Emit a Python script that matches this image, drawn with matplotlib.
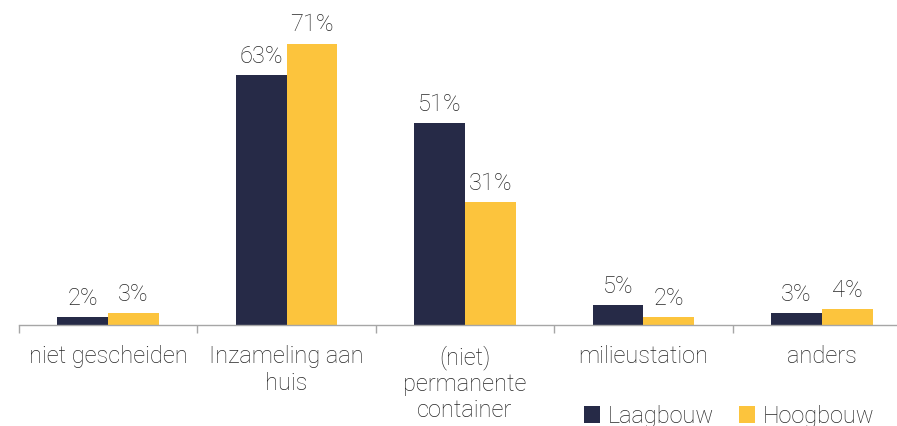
import numpy as np
import matplotlib.pyplot as plt

categories = ['niet gescheiden', 'Inzameling aan\nhuis', '(niet)\npermanente\ncontainer',
              'milieustation', 'anders']
laagbouw = [2, 63, 51, 5, 3]
hoogbouw = [3, 71, 31, 2, 4]
series_names = ['Laagbouw', 'Hoogbouw']

plt.rcParams.update({
    'font.family': ['Roboto', 'DejaVu Sans'],
    'font.weight': 'light',
    'font.size': 17,
})

dark = '#262a47'
yellow = '#fcc43d'
text_col = '#262626'

fig = plt.figure(figsize=(8.97, 4.27), dpi=100)
ax = fig.add_axes([19 / 897, 1 - 326 / 427, 892 / 897, 326 / 427])

x = np.arange(len(categories))
w = 0.285
b1 = ax.bar(x - w / 2, laagbouw, w, color=dark, label=series_names[0])
b2 = ax.bar(x + w / 2, hoogbouw, w, color=yellow, label=series_names[1])

for bars in (b1, b2):
    for rect in bars:
        h = rect.get_height()
        ax.annotate(f'{h:.0f}%', (rect.get_x() + rect.get_width() / 2, h),
                    xytext=(0, 6), textcoords='offset points',
                    ha='center', va='bottom', fontsize=17, color=text_col)

ax.set_xlim(-0.5, len(categories) - 0.5)
ax.set_ylim(0, 82.3)

ax.set_xticks(x)
ax.set_xticklabels(categories, fontsize=17, color=text_col, linespacing=1.17)
ax.tick_params(axis='x', length=0, pad=14)
ax.set_xticks(np.arange(len(categories) + 1) - 0.5, minor=True)
ax.tick_params(axis='x', which='minor', length=6, color='#a6a6a6', width=1)
ax.set_yticks([])

for s in ['top', 'right', 'left']:
    ax.spines[s].set_visible(False)
ax.spines['bottom'].set_color('#a6a6a6')
ax.spines['bottom'].set_linewidth(1)

leg = ax.legend(loc='center', bbox_to_anchor=(729 / 897, 10 / 427), bbox_transform=fig.transFigure,
                ncol=2, frameon=False, handlelength=0.7, handleheight=0.7,
                handletextpad=0.3, columnspacing=1.07, fontsize=17)
for t in leg.get_texts():
    t.set_color(text_col)

fig.savefig('out.png', dpi=100)
